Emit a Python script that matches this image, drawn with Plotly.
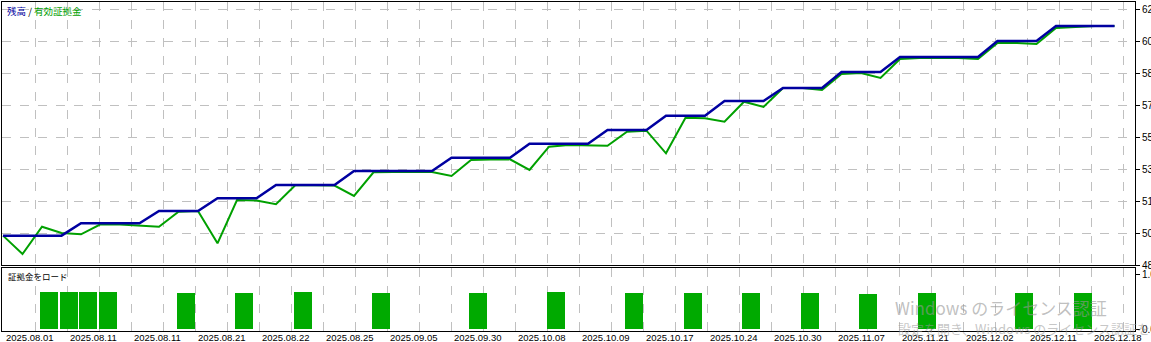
import plotly.graph_objects as go

# ---------------- data ----------------
date_labels = ["2025.08.01", "2025.08.11", "2025.08.11", "2025.08.21", "2025.08.22",
               "2025.08.25", "2025.09.05", "2025.09.30", "2025.10.08", "2025.10.09",
               "2025.10.17", "2025.10.24", "2025.10.30", "2025.11.07", "2025.11.21",
               "2025.12.02", "2025.12.11", "2025.12.18"]

balance = [50060, 50060, 50060, 50060, 50715, 50715, 50715, 50715,
           51370, 51370, 51370, 52045, 52045, 52045, 52750, 52750,
           52750, 52750, 53495, 53495, 53495, 53495, 53495, 54200,
           54200, 54200, 54200, 54945, 54945, 54945, 54945, 55670,
           55670, 55670, 56430, 56430, 56430, 57210, 57210, 57210,
           57905, 57905, 57905, 58755, 58755, 58755, 59550, 59550,
           59550, 59550, 59550, 60400, 60400, 60400, 61200, 61200,
           61200, 61200]

equity = [50060, 49084, 50535, 50200, 50131, 50662, 50650, 50588,
          50535, 51332, 51369, 49653, 51953, 51927, 51725, 52750,
          52723, 52723, 52166, 53425, 53440, 53440, 53440, 53228,
          54078, 54105, 54115, 53547, 54785, 54875, 54838, 54838,
          55581, 55635, 54434, 56325, 56293, 56113, 57175, 56894,
          57903, 57903, 57797, 58647, 58700, 58434, 59444, 59497,
          59497, 59497, 59444, 60294, 60294, 60240, 61091, 61144,
          61197, 61197]

load_idx = [2, 3, 4, 5, 9, 12, 15, 19, 24, 28, 32, 35, 38, 41, 44, 47, 52, 55]
load_val = [0.67, 0.67, 0.67, 0.67, 0.655, 0.66, 0.67, 0.655, 0.655, 0.67,
            0.655, 0.655, 0.655, 0.655, 0.645, 0.655, 0.655, 0.655]

price_ticks = [48500, 50200, 51900, 53600, 55300, 57000, 58700, 60400, 62100]
load_ticks = [0.0, 1.0]

# ---------------- layout helpers ----------------
W, H = 1151, 342
STEP = 19.5          # px per trade
X0, X1 = 2, 1135     # frame left / right in px
Y_MAIN = (2, 265)    # top / bottom px of main panel
Y_SUB = (268, 331)   # top / bottom px of load panel

def py(px):
    return 1 - px / H

x_dom = [X0 / W, X1 / W]
x_rng = [-(3 - X0) / STEP, (X1 - 3) / STEP]
grid_x = [32 * k / STEP for k in range(1, 36)]
label_x = [64 * k / STEP for k in range(len(date_labels))]

main_lo = 48500
main_hi = main_lo + (Y_MAIN[1] - Y_MAIN[0]) * 1700 / 32

# load panel: 0 at px 329, 1.0 at px 274
sub_px_per_unit = 55.0
sub_lo = -(Y_SUB[1] - 329) / sub_px_per_unit
sub_hi = 1.0 + (274 - Y_SUB[0]) / sub_px_per_unit

BLUE = "#0000a0"
GREEN = "#00a000"
BAR = "#00aa00"
GRID = "#c0c0c0"
FONT = "Liberation Sans"
CJK = "Noto Sans CJK JP"

xs = list(range(len(balance)))

fig = go.Figure()
fig.add_trace(go.Scatter(x=xs, y=equity, mode="lines",
                         line=dict(color=GREEN, width=2), xaxis="x", yaxis="y",
                         hoverinfo="skip"))
fig.add_trace(go.Scatter(x=xs, y=balance, mode="lines",
                         line=dict(color=BLUE, width=2.5), xaxis="x", yaxis="y",
                         hoverinfo="skip"))
fig.add_trace(go.Bar(x=[i + 0.37 for i in load_idx], y=load_val, width=0.92,
                     marker=dict(color=BAR, line=dict(width=0)),
                     xaxis="x2", yaxis="y2", hoverinfo="skip"))

axis_common = dict(showline=True, linecolor="black", linewidth=1, mirror=True,
                   zeroline=False)

fig.update_layout(
    width=W, height=H,
    margin=dict(l=0, r=0, t=0, b=0),
    paper_bgcolor="white", plot_bgcolor="white",
    showlegend=False,
    font=dict(family=FONT, size=9, color="black"),
    xaxis=dict(domain=x_dom, range=x_rng, anchor="y",
               tickmode="array", tickvals=grid_x, showticklabels=False, ticks="",
               showgrid=True, gridcolor=GRID, griddash="dash", gridwidth=1,
               **axis_common),
    yaxis=dict(domain=[py(Y_MAIN[1]), py(Y_MAIN[0])], range=[main_lo, main_hi],
               anchor="x", side="right",
               tickmode="array", tickvals=price_ticks,
               ticktext=[str(v) for v in price_ticks],
               ticks="outside", ticklen=4, tickcolor="black",
               tickfont=dict(family=FONT, size=10, color="black"),
               showgrid=True, gridcolor=GRID, griddash="dash", gridwidth=1,
               automargin=False, **axis_common),
    xaxis2=dict(domain=x_dom, range=x_rng, anchor="y2",
                tickmode="array", tickvals=grid_x, showticklabels=False, ticks="",
                showgrid=True, gridcolor=GRID, griddash="dash", gridwidth=1,
                **axis_common),
    yaxis2=dict(domain=[py(Y_SUB[1]), py(Y_SUB[0])], range=[sub_lo, sub_hi],
                anchor="x2", side="right",
                tickmode="array", tickvals=load_ticks,
                ticktext=["%.1f" % v for v in load_ticks],
                ticks="outside", ticklen=4, tickcolor="black",
                tickfont=dict(family=FONT, size=10, color="black"),
                showgrid=False, automargin=False, **axis_common),
    bargap=0,
)

annotations = []
for xv, txt in zip(label_x, date_labels):
    annotations.append(dict(x=xv, y=py(337), xref="x2", yref="paper", text=txt,
                            showarrow=False, xanchor="left", yanchor="middle",
                            xshift=1, font=dict(family=FONT, size=9.5, color="black")))

annotations.append(dict(x=5 / W, y=py(11), xref="paper", yref="paper",
                        text="<span style='color:%s'>残高</span> / <span style='color:%s'>有効証拠金</span>" % (BLUE, GREEN),
                        showarrow=False, xanchor="left", yanchor="middle",
                        font=dict(family=CJK, size=9.5, color="black")))
annotations.append(dict(x=6 / W, y=py(276), xref="paper", yref="paper",
                        text="証拠金をロード", showarrow=False,
                        xanchor="left", yanchor="middle",
                        font=dict(family=CJK, size=8.5, color="black")))
# Windows activation watermark visible on the reference
annotations.append(dict(x=893 / W, y=py(307), xref="paper", yref="paper",
                        text="Windows のライセンス認証", showarrow=False,
                        xanchor="left", yanchor="middle",
                        font=dict(family=CJK, size=17, color="rgba(150,150,150,0.6)")))
annotations.append(dict(x=896 / W, y=py(328), xref="paper", yref="paper",
                        text="設定を開き、Windows のライセンス認証を行ってください。",
                        showarrow=False, xanchor="left", yanchor="middle",
                        font=dict(family=CJK, size=13, color="rgba(150,150,150,0.55)")))

fig.update_layout(annotations=annotations)

fig.write_html("out.html")
